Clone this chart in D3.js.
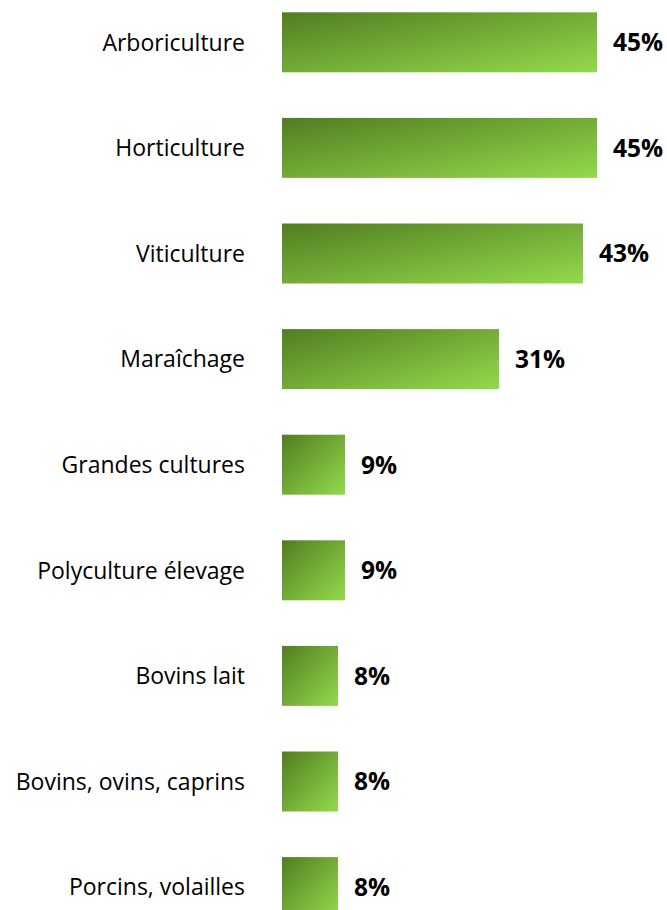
<!DOCTYPE html>
<html><head><meta charset="utf-8">
<script src="https://cdn.jsdelivr.net/npm/d3@7"></script>
<style>html,body{margin:0;padding:0;background:#fff;overflow:hidden}</style>
</head><body>
<script>
const categories = ["Arboriculture","Horticulture","Viticulture","Maraîchage","Grandes cultures","Polyculture élevage","Bovins lait","Bovins, ovins, caprins","Porcins, volailles"];
const values = [45,45,43,31,9,9,8,8,8];

const W = 667, H = 910;
const svg = d3.select("body").append("svg").attr("width", W).attr("height", H);

const defs = svg.append("defs");
const grad = defs.append("linearGradient").attr("id","g")
  .attr("x1","0").attr("y1","0").attr("x2","1").attr("y2","1");
grad.append("stop").attr("offset","0%").attr("stop-color","#527d22");
grad.append("stop").attr("offset","100%").attr("stop-color","#93da4b");

const x = d3.scaleLinear().domain([0,45]).range([282,597]);
const y = d3.scaleBand().domain(categories).range([-10.5, 939.9]).paddingInner(0.432).paddingOuter(0.216);

const rows = svg.selectAll("g.row").data(categories).join("g").attr("class","row");

rows.append("rect")
  .attr("x", x(0))
  .attr("y", d => y(d))
  .attr("width", (d,i) => x(values[i]) - x(0))
  .attr("height", y.bandwidth())
  .attr("fill","url(#g)");

rows.append("text")
  .attr("x", 245)
  .attr("y", d => y(d) + y.bandwidth()/2)
  .attr("dy","0.36em")
  .attr("text-anchor","end")
  .attr("font-family","'Open Sans', sans-serif")
  .attr("font-size", 23)
  .attr("fill","#000")
  .text(d => d);

rows.append("text")
  .attr("x", (d,i) => x(values[i]) + 16)
  .attr("y", d => y(d) + y.bandwidth()/2)
  .attr("dy","0.36em")
  .attr("font-family","'Open Sans', sans-serif")
  .attr("font-weight","bold")
  .attr("font-size", 24.5)
  .attr("fill","#000")
  .text((d,i) => values[i] + "%");
</script>
</body></html>
